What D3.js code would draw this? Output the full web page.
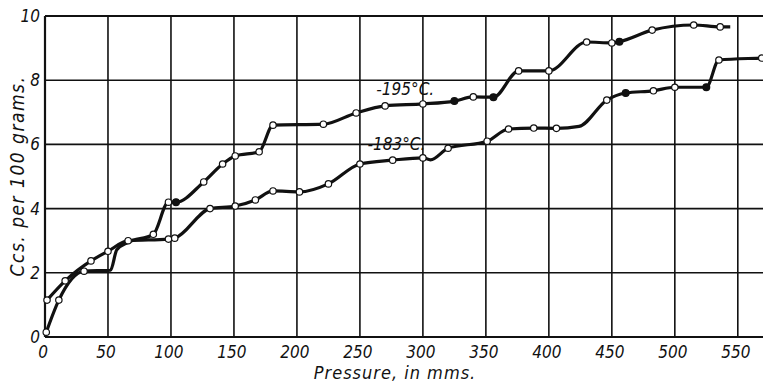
<!DOCTYPE html>
<html>
<head>
<meta charset="utf-8">
<script src="https://cdn.jsdelivr.net/npm/d3@7"></script>
<style>
  body { margin: 0; background: #fff; }
  text { font-family: "DejaVu Sans Condensed", "DejaVu Sans", sans-serif; font-stretch: condensed; font-style: italic; fill: #111; }
</style>
</head>
<body>
<script>
// Tick values
const xTicks = [0, 50, 100, 150, 200, 250, 300, 350, 400, 450, 500, 550];
const yTicks = [0, 2, 4, 6, 8, 10];

// -195 °C curve (marker: o = open circle, f = filled dot, "" = no marker)
const p195 = [1, 11, 31, 52, 57, 66, 86, 98, 104, 126, 141, 151, 170, 181, 221, 247, 270, 300, 325, 340, 356, 376, 400, 430, 450, 456, 482, 515, 536, 544];
const v195 = [0.15, 1.15, 2.05, 2.08, 2.72, 2.95, 3.2, 4.2, 4.2, 4.83, 5.39, 5.64, 5.77, 6.6, 6.63, 6.98, 7.2, 7.26, 7.35, 7.48, 7.47, 8.29, 8.29, 9.19, 9.16, 9.2, 9.56, 9.72, 9.66, 9.66];
const m195 = ["o", "o", "o", "", "", "", "o", "o", "f", "o", "o", "o", "o", "o", "o", "o", "o", "o", "f", "o", "f", "o", "o", "o", "o", "f", "o", "o", "o", ""];

// -183 °C curve
const p183 = [1.6, 16, 36.5, 50, 66, 98, 103, 131, 151, 167, 181, 202, 225, 250, 276, 300, 306, 320, 351, 368, 388, 406, 424, 446, 461, 483, 500, 525, 535, 569, 575];
const v183 = [1.15, 1.75, 2.37, 2.67, 3.0, 3.05, 3.08, 4.0, 4.08, 4.27, 4.55, 4.52, 4.77, 5.39, 5.51, 5.58, 5.52, 5.88, 6.1, 6.48, 6.51, 6.5, 6.56, 7.38, 7.6, 7.67, 7.78, 7.78, 8.63, 8.69, 8.7];
const m183 = ["o", "o", "o", "o", "o", "o", "o", "o", "o", "o", "o", "o", "o", "o", "o", "o", "", "o", "o", "o", "o", "o", "", "o", "f", "o", "o", "f", "o", "o", ""];

const curveLabels = ["-195°C.", "-183°C."];
const labelPos = [[263, 7.54], [256, 5.83]];

const W = 763, H = 383;
const margin = {top: 16, right: 0, bottom: 46, left: 45};

const svg = d3.select("body").append("svg")
  .attr("width", W)
  .attr("height", H);

const x = d3.scaleLinear().domain([0, 570]).range([margin.left, W - margin.right]);
const y = d3.scaleLinear().domain([0, 10]).range([H - margin.bottom, margin.top]);

// grid
svg.append("g")
  .selectAll("line")
  .data(xTicks)
  .join("line")
    .attr("x1", d => x(d)).attr("x2", d => x(d))
    .attr("y1", y(0)).attr("y2", y(10))
    .attr("stroke", "#111")
    .attr("stroke-width", d => d === 0 ? 2.2 : 1.6);

svg.append("g")
  .selectAll("line")
  .data(yTicks)
  .join("line")
    .attr("x1", x(0)).attr("x2", W)
    .attr("y1", d => y(d)).attr("y2", d => y(d))
    .attr("stroke", "#111")
    .attr("stroke-width", d => (d === 0 || d === 10) ? 2.2 : 1.6);

// tick labels
svg.append("g")
  .selectAll("text")
  .data(xTicks)
  .join("text")
    .attr("x", d => x(d) - 2)
    .attr("y", y(0) + 21)
    .attr("text-anchor", "middle")
    .attr("font-size", 17)
    .text(d => d);

svg.append("g")
  .selectAll("text")
  .data(yTicks)
  .join("text")
    .attr("x", x(0) - 5)
    .attr("y", d => y(d) + 6)
    .attr("text-anchor", "end")
    .attr("font-size", 17)
    .text(d => d);

// axis titles
svg.append("text")
  .attr("x", 395)
  .attr("y", 379)
  .attr("text-anchor", "middle")
  .attr("font-size", 18)
  .attr("letter-spacing", 1)
  .text("Pressure, in mms.");

svg.append("text")
  .attr("transform", `translate(24,${176})rotate(-90)`)
  .attr("text-anchor", "middle")
  .attr("font-size", 19)
  .attr("letter-spacing", 1.5)
  .text("Ccs. per 100 grams.");

// curves
const series = [
  {p: p195, v: v195, m: m195},
  {p: p183, v: v183, m: m183}
];

const line = d3.line()
  .x(d => x(d[0]))
  .y(d => y(d[1]))
  .curve(d3.curveMonotoneX);

series.forEach(s => {
  const pts = s.p.map((p, i) => [p, s.v[i], s.m[i]]);
  svg.append("path")
    .datum(pts)
    .attr("d", line)
    .attr("fill", "none")
    .attr("stroke", "#111")
    .attr("stroke-width", 3.2)
    .attr("stroke-linejoin", "round");

  svg.append("g")
    .selectAll("circle")
    .data(pts.filter(d => d[2] !== ""))
    .join("circle")
      .attr("cx", d => x(d[0]))
      .attr("cy", d => y(d[1]))
      .attr("r", d => d[2] === "f" ? 3.4 : 3.2)
      .attr("fill", d => d[2] === "f" ? "#111" : "#fff")
      .attr("stroke", "#111")
      .attr("stroke-width", 1.2);
});

// curve labels
svg.append("g")
  .selectAll("text")
  .data(curveLabels)
  .join("text")
    .attr("x", (d, i) => x(labelPos[i][0]))
    .attr("y", (d, i) => y(labelPos[i][1]))
    .attr("font-size", 17)
    .text(d => d);
</script>
</body>
</html>
